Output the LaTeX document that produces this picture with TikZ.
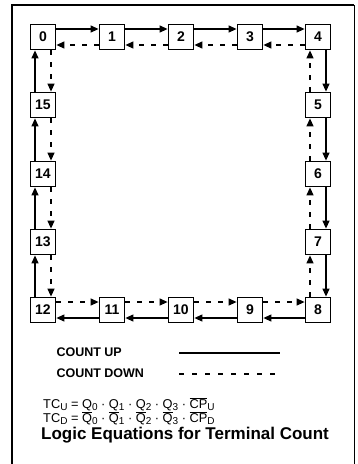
\documentclass[tikz,border=0pt]{standalone}
\usepackage{fontspec}
\setmainfont{Liberation Sans}
\usetikzlibrary{arrows.meta}
\tikzstyle{cell}=[draw, line width=1.8pt, minimum size=25pt, inner sep=0pt, font=\fontsize{14}{14}\bfseries\selectfont]
\tikzstyle{countup}=[line width=1.2pt, -{Triangle[length=8pt,width=7pt]}]
\tikzstyle{countdown}=[countup, dash pattern=on 5pt off 7pt]
\newcommand{\sub}[1]{\raisebox{-2pt}{\fontsize{10}{10}\selectfont #1}}
\newcommand{\ovl}[1]{$\overline{\hbox{#1}}$}

\begin{document}
\begin{tikzpicture}[x=1pt, y=-1pt]
                    \useasboundingbox (0,0) rectangle (357,464);
                    \draw[line width=1.5pt] (12,464) -- (12,5) -- (354,5);
                    \draw[line width=0.8pt] (354,5) -- (354,464);
                    % top row
                    \node[cell] (0)  at ( 43, 37) {0};
                    \node[cell] (1)  at (112, 37) {1};
                    \node[cell] (2)  at (181, 37) {2};
                    \node[cell] (3)  at (250, 37) {3};
                    \node[cell] (4)  at (318, 37) {4};
                    % right column
                    \node[cell] (5)  at (318,105) {5};
                    \node[cell] (6)  at (318,174) {6};
                    \node[cell] (7)  at (318,242) {7};
                    \node[cell] (8)  at (318,310) {8};
                    % bottom row
                    \node[cell] (9)  at (250,310) {9};
                    \node[cell] (10) at (181,310) {10};
                    \node[cell] (11) at (112,310) {11};
                    \node[cell] (12) at ( 43,310) {12};
                    % left column
                    \node[cell] (13) at ( 43,242) {13};
                    \node[cell] (14) at ( 43,174) {14};
                    \node[cell] (15) at ( 43,105) {15};
                    \foreach \a/\b in {0/1, 1/2, 2/3, 3/4} {
                        \draw[countup]   ([yshift=8pt]\a.east)  -- ([yshift=8pt]\b.west);
                        \draw[countdown] ([yshift=-8pt]\b.west) -- ([yshift=-8pt]\a.east);
                    }
                    \foreach \a/\b in {4/5, 5/6, 6/7, 7/8} {
                        \draw[countup]   ([xshift=8pt]\a.south)  -- ([xshift=8pt]\b.north);
                        \draw[countdown] ([xshift=-8pt]\b.north) -- ([xshift=-8pt]\a.south);
                    }
                    \foreach \a/\b in {8/9, 9/10, 10/11, 11/12} {
                        \draw[countup]   ([yshift=-8pt]\a.west) -- ([yshift=-8pt]\b.east);
                        \draw[countdown] ([yshift=8pt]\b.east)  -- ([yshift=8pt]\a.west);
                    }
                    \foreach \a/\b in {12/13, 13/14, 14/15, 15/0} {
                        \draw[countup]   ([xshift=-8pt]\a.north) -- ([xshift=-8pt]\b.south);
                        \draw[countdown] ([xshift=8pt]\b.south)  -- ([xshift=8pt]\a.north);
                    }
                    % legend
                    \node[anchor=west, font=\fontsize{12.5}{12.5}\bfseries\selectfont] (up)   at (53,352) {COUNT UP};
                    \node[anchor=west, font=\fontsize{12.5}{12.5}\bfseries\selectfont] (down) at (53,373) {COUNT DOWN};
                    \coordinate (up1) at (179,353);
                    \coordinate (up2) at (280,353);
                    \coordinate (down1) at (179,374);
                    \coordinate (down2) at (280,374);
                    \draw[line width=1.2pt] (up1) -- (up2);
                    \draw[line width=1.2pt, dash pattern=on 5pt off 8pt] (down1) -- (down2);
                    % equations
                    \node[anchor=west, font=\fontsize{12.8}{12.8}\selectfont, inner sep=0pt] (tcu) at (43,404)
                        {TC\sub{U} = Q\sub{0} · Q\sub{1} · Q\sub{2} · Q\sub{3} · \ovl{CP}\sub{U}};
                    \node[anchor=west, font=\fontsize{12.8}{12.8}\selectfont, inner sep=0pt] (tcd) at (43,418)
                        {TC\sub{D} = \ovl{Q}\sub{0} · \ovl{Q}\sub{1} · \ovl{Q}\sub{2} · \ovl{Q}\sub{3} · \ovl{CP}\sub{D}};
                    \node[font=\fontsize{17}{17}\bfseries\selectfont, inner sep=0pt] (title) at (185,435) {Logic Equations for Terminal Count};
                \end{tikzpicture}
\end{document}
